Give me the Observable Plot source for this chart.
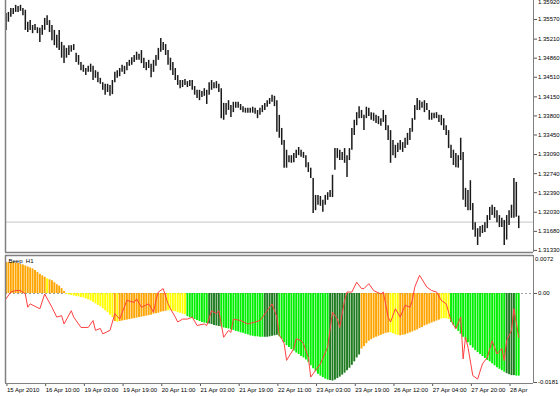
<!DOCTYPE html>
<html><head><meta charset="utf-8">
<script src="https://cdn.jsdelivr.net/npm/d3@7"></script>
<script src="https://cdn.jsdelivr.net/npm/@observablehq/plot@0.6"></script>
<style>
body{margin:0;background:#fff;}
#wrap{position:relative;width:560px;height:396px;overflow:hidden;background:#fff;}
#top{position:absolute;left:0;top:0;}
#bot{position:absolute;left:0;top:254px;}
</style></head><body><div id="wrap"><div id="top"></div><div id="bot"></div></div>
<script>
// ---- price bars (EURUSD H1) ----
const highs = [
1.3568,1.3570,1.3577,1.3577,1.3583,1.3581,1.3583,1.3577,1.3574,1.3552,
1.3555,1.3546,1.3548,1.3542,1.3541,1.3546,1.3559,1.3564,1.3555,1.3546,
1.3537,1.3528,1.3537,1.3515,1.3509,1.3504,1.3509,1.3509,1.3511,1.3495,
1.3491,1.3478,1.3473,1.3467,1.3471,1.3475,1.3471,1.3463,1.3460,1.3449,
1.3441,1.3438,1.3438,1.3436,1.3445,1.3460,1.3463,1.3467,1.3473,1.3471,
1.3478,1.3482,1.3487,1.3491,1.3497,1.3493,1.3500,1.3486,1.3478,1.3482,
1.3475,1.3482,1.3491,1.3504,1.3522,1.3515,1.3511,1.3500,1.3486,1.3478,
1.3467,1.3454,1.3445,1.3445,1.3447,1.3443,1.3445,1.3445,1.3434,1.3427,
1.3427,1.3425,1.3430,1.3427,1.3441,1.3445,1.3441,1.3443,1.3438,1.3430,
1.3403,1.3403,1.3408,1.3399,1.3405,1.3405,1.3405,1.3401,1.3397,1.3394,
1.3394,1.3394,1.3396,1.3394,1.3390,1.3394,1.3399,1.3403,1.3408,1.3412,
1.3418,1.3416,1.3408,1.3381,1.3357,1.3335,1.3317,1.3307,1.3307,1.3311,
1.3317,1.3322,1.3317,1.3313,1.3307,1.3294,1.3284,1.3265,1.3234,1.3234,
1.3232,1.3225,1.3234,1.3239,1.3243,1.3271,1.3320,1.3320,1.3317,1.3313,
1.3320,1.3307,1.3320,1.3357,1.3372,1.3386,1.3397,1.3390,1.3381,1.3396,
1.3394,1.3386,1.3385,1.3381,1.3379,1.3375,1.3390,1.3381,1.3362,1.3353,
1.3335,1.3326,1.3330,1.3335,1.3331,1.3339,1.3348,1.3357,1.3375,1.3399,
1.3412,1.3408,1.3405,1.3408,1.3403,1.3390,1.3385,1.3385,1.3386,1.3381,
1.3381,1.3375,1.3362,1.3353,1.3326,1.3317,1.3311,1.3307,1.3339,1.3313,
1.3247,1.3243,1.3261,1.3219,1.3184,1.3173,1.3177,1.3179,1.3184,1.3197,
1.3212,1.3216,1.3212,1.3206,1.3197,1.3192,1.3188,1.3197,1.3206,1.3216,
1.3265,1.3258,1.3196];
const lows = [
1.3537,1.3552,1.3561,1.3566,1.3570,1.3570,1.3572,1.3564,1.3537,1.3533,
1.3537,1.3531,1.3537,1.3531,1.3515,1.3528,1.3537,1.3546,1.3533,1.3518,
1.3509,1.3504,1.3500,1.3486,1.3476,1.3486,1.3491,1.3497,1.3500,1.3478,
1.3473,1.3463,1.3460,1.3454,1.3460,1.3460,1.3445,1.3449,1.3441,1.3438,
1.3427,1.3418,1.3423,1.3416,1.3419,1.3441,1.3449,1.3452,1.3460,1.3456,
1.3463,1.3471,1.3473,1.3478,1.3482,1.3482,1.3476,1.3467,1.3463,1.3467,
1.3450,1.3460,1.3471,1.3482,1.3497,1.3500,1.3491,1.3473,1.3463,1.3454,
1.3445,1.3436,1.3430,1.3432,1.3436,1.3432,1.3434,1.3427,1.3418,1.3412,
1.3408,1.3414,1.3416,1.3401,1.3418,1.3427,1.3430,1.3430,1.3423,1.3375,
1.3372,1.3381,1.3390,1.3377,1.3386,1.3394,1.3394,1.3390,1.3386,1.3385,
1.3385,1.3385,1.3385,1.3383,1.3375,1.3381,1.3386,1.3390,1.3396,1.3401,
1.3405,1.3397,1.3350,1.3339,1.3326,1.3284,1.3284,1.3294,1.3293,1.3294,
1.3302,1.3307,1.3304,1.3302,1.3285,1.3276,1.3265,1.3201,1.3206,1.3216,
1.3214,1.3203,1.3216,1.3225,1.3230,1.3230,1.3280,1.3302,1.3298,1.3298,
1.3293,1.3267,1.3298,1.3317,1.3344,1.3362,1.3375,1.3375,1.3353,1.3375,
1.3379,1.3372,1.3370,1.3366,1.3364,1.3361,1.3368,1.3353,1.3335,1.3293,
1.3307,1.3302,1.3313,1.3317,1.3313,1.3320,1.3326,1.3335,1.3350,1.3372,
1.3390,1.3390,1.3394,1.3386,1.3390,1.3372,1.3372,1.3375,1.3375,1.3368,
1.3362,1.3353,1.3344,1.3320,1.3302,1.3289,1.3285,1.3284,1.3298,1.3225,
1.3212,1.3206,1.3206,1.3170,1.3157,1.3142,1.3157,1.3164,1.3166,1.3173,
1.3188,1.3197,1.3192,1.3184,1.3175,1.3175,1.3142,1.3152,1.3179,1.3192,
1.3192,1.3194,1.3173];
const lastPrice = 1.31850;
const topTick = 1.35920;
const priceTicks = [1.35570,1.35210,1.34860,1.34510,1.34150,1.33800,1.33450,1.33090,1.32740,1.32390,1.32030,1.31680,1.31330];

// ---- Beep indicator ----
const beep = [
0.0063,0.0063,0.0063,0.0063,0.0062,0.0061,0.0059,0.0058,0.0056,0.0054,
0.0052,0.0050,0.0047,0.0043,0.0039,0.0036,0.0033,0.0030,0.0028,0.0026,
0.0022,0.0018,0.0015,0.0010,0.0004,-0.0002,-0.0003,-0.0004,-0.0005,-0.0006,
-0.0007,-0.0008,-0.0009,-0.0011,-0.0013,-0.0015,-0.0018,-0.0021,-0.0024,-0.0027,
-0.0031,-0.0035,-0.0039,-0.0044,-0.0049,-0.0057,-0.0058,-0.0057,-0.0056,-0.0055,
-0.0054,-0.0053,-0.0052,-0.0051,-0.0050,-0.0049,-0.0048,-0.0047,-0.0046,-0.0045,
-0.0044,-0.0042,-0.0041,-0.0040,-0.0038,-0.0037,-0.0036,-0.0035,-0.0035,-0.0036,
-0.0037,-0.0039,-0.0040,-0.0042,-0.0043,-0.0047,-0.0049,-0.0051,-0.0053,-0.0055,
-0.0057,-0.0059,-0.0060,-0.0061,-0.0062,-0.0063,-0.0065,-0.0066,-0.0067,-0.0068,
-0.0070,-0.0071,-0.0072,-0.0074,-0.0075,-0.0077,-0.0078,-0.0080,-0.0081,-0.0083,
-0.0084,-0.0086,-0.0087,-0.0088,-0.0088,-0.0089,-0.0089,-0.0089,-0.0089,-0.0088,
-0.0087,-0.0086,-0.0085,-0.0088,-0.0093,-0.0100,-0.0106,-0.0110,-0.0114,-0.0117,
-0.0121,-0.0124,-0.0128,-0.0131,-0.0135,-0.0140,-0.0147,-0.0153,-0.0159,-0.0164,
-0.0168,-0.0171,-0.0174,-0.0176,-0.0177,-0.0178,-0.0176,-0.0173,-0.0170,-0.0166,
-0.0162,-0.0157,-0.0152,-0.0146,-0.0139,-0.0131,-0.0125,-0.0113,-0.0108,-0.0102,
-0.0097,-0.0094,-0.0091,-0.0089,-0.0087,-0.0085,-0.0083,-0.0081,-0.0080,-0.0080,
-0.0082,-0.0084,-0.0085,-0.0086,-0.0085,-0.0084,-0.0082,-0.0080,-0.0078,-0.0076,
-0.0074,-0.0071,-0.0069,-0.0066,-0.0064,-0.0062,-0.0060,-0.0058,-0.0056,-0.0054,
-0.0052,-0.0051,-0.0051,-0.0053,-0.0059,-0.0065,-0.0071,-0.0077,-0.0083,-0.0089,
-0.0095,-0.0100,-0.0106,-0.0111,-0.0116,-0.0120,-0.0124,-0.0128,-0.0132,-0.0136,
-0.0139,-0.0143,-0.0147,-0.0151,-0.0154,-0.0157,-0.0160,-0.0163,-0.0165,-0.0167,
-0.0167,-0.0168,-0.0168];
// colour state runs: O orange, Y yellow, G green, D dark green
const colorRuns = [["O",17],["Y",1],["O",7],["Y",20],["O",1],["Y",1],["O",20],["Y",8],["G",9],["D",5],["G",18],["D",6],["G",21],["D",13],["O",12],["Y",4],["O",17],["Y",4],["G",23],["D",4],["G",2]];
const redIdx = [0,2,4,6,8,9,10,14,16,19,21,23,24,27,28,31,34,36,37,39,40,43,45,47,50,53,54,56,59,61,62,63,65,67,68,70,71,73,75,77,79,82,83,85,87,88,90,92,93,94,97,100,103,105,108,110,112,113,114,115,116,119,120,122,123,125,126,127,130,133,135,137,138,140,141,143,145,147,148,150,152,155,156,158,159,161,163,165,167,168,169,171,174,176,178,180,182,184,186,188,189,190,191,193,195,197,199,201,203,205,206,207,209,210,212];
const redVal = [-0.0011,0.0003,0.0006,0.0006,-0.0001,-0.0028,-0.0021,-0.0031,-0.0001,-0.0028,-0.0048,-0.0045,-0.0062,-0.0035,-0.0048,-0.0069,-0.0069,-0.0055,-0.0075,-0.0071,-0.0082,-0.0075,-0.0041,-0.0052,-0.0014,-0.0018,-0.0011,-0.0028,-0.0021,-0.0038,-0.0014,0.0003,0.0010,-0.0021,-0.0031,-0.0048,-0.0058,-0.0052,-0.0052,-0.0048,-0.0065,-0.0062,-0.0065,-0.0035,-0.0041,-0.0035,-0.0089,-0.0075,-0.0079,-0.0052,-0.0055,-0.0062,-0.0058,-0.0055,-0.0035,-0.0021,-0.0048,-0.0085,-0.0092,-0.0102,-0.0136,-0.0112,-0.0092,-0.0096,-0.0102,-0.0130,-0.0170,-0.0163,-0.0143,-0.0109,-0.0038,-0.0052,-0.0069,-0.0014,0.0003,0.0003,0.0023,0.0010,0.0010,0.0020,0.0006,-0.0001,0.0003,-0.0048,-0.0058,-0.0031,-0.0048,-0.0024,-0.0028,-0.0014,0.0013,0.0037,0.0013,0.0006,0.0003,-0.0014,-0.0021,-0.0055,-0.0072,-0.0048,-0.0133,-0.0089,-0.0109,-0.0167,-0.0174,-0.0143,-0.0130,-0.0096,-0.0123,-0.0112,-0.0136,-0.0096,-0.0075,-0.0031,-0.0089];
const beepTicks = [0.0072, 0, -0.0181];
const timeIdx = [0,16,32,48,64,80,96,112,128,144,160,176,192,208];
const timeLabels = ["15 Apr 2010","16 Apr 10:00","19 Apr 03:00","19 Apr 19:00","20 Apr 11:00","21 Apr 03:00","21 Apr 19:00","22 Apr 11:00","23 Apr 03:00","23 Apr 19:00","26 Apr 12:00","27 Apr 04:00","27 Apr 20:00","28 Apr"];

// ---- build ----
const xDomain = [-0.2, 218.1];
const yDomain = [1.31292, 1.35919];
const bDomain = [-0.0183, 0.00773];
const colorOf = {O:"#ffa500", Y:"#ffff00", G:"#00ee00", D:"#1e7a1e"};
const cats = colorRuns.flatMap(([c,n]) => Array(n).fill(c));
const bars = highs.map((h,i) => ({i, high:h, low:lows[i]}));
const beepData = beep.map((v,i) => ({i, v, c: colorOf[cats[i]]}));
const redData = redIdx.map((i,k) => ({i, v: redVal[k]}));
const FONT = "'Liberation Sans', Arial, sans-serif";
const frameC = "#808080";

const topChart = Plot.plot({
  width:560, height:253, marginLeft:5, marginRight:27, marginTop:0, marginBottom:1,
  x:{domain:xDomain, axis:null},
  y:{domain:yDomain, axis:null},
  style:{fontFamily:FONT, fontSize:"6px", background:"white", overflow:"visible", color:"#000"},
  marks:[
    Plot.ruleY([lastPrice], {stroke:"#c4c4c4"}),
    Plot.ruleX(bars, {x:"i", y1:"low", y2:"high", stroke:"#1a1a1a", strokeWidth:1.5}),
    Plot.axisY({anchor:"right", ticks:priceTicks, tickFormat:d => d.toFixed(5), tickSize:3, tickPadding:1.5, stroke:"#555", label:null}),
    Plot.text([topTick], {x:() => xDomain[1], y:d => d, text:d => d.toFixed(5), textAnchor:"start", lineAnchor:"top", dx:4.5, dy:-1}),
    Plot.ruleX([xDomain[0]], {stroke:frameC, strokeWidth:1.5}),
    Plot.ruleX([xDomain[1]], {stroke:frameC}),
    Plot.ruleY([yDomain[0]], {stroke:frameC, strokeWidth:1.5}),
    Plot.text([lastPrice], {x:() => xDomain[1], y:d => d, text:d => d.toFixed(5), textAnchor:"start", dx:4, fill:"white"})
  ]
});
document.getElementById("top").appendChild(topChart);
// black box behind the current price label
d3.select(topChart).selectAll("text").filter(function(){ return this.textContent === lastPrice.toFixed(5) && this.getAttribute("fill") === "white"; })
  .each(function(){
    const b = this.getBBox();
    d3.select(this.parentNode).insert("rect", () => this)
      .attr("x", b.x - 1).attr("y", b.y - 0.5).attr("width", b.width + 2).attr("height", b.height + 1).attr("fill", "#000");
  });

const botChart = Plot.plot({
  width:560, height:142, marginLeft:5, marginRight:27, marginTop:1, marginBottom:13,
  x:{domain:xDomain, axis:null},
  y:{domain:bDomain, axis:null},
  color:{type:"identity"},
  style:{fontFamily:FONT, fontSize:"6px", background:"white", overflow:"visible", color:"#000"},
  marks:[
    Plot.ruleY([0], {stroke:"#a0a0a0", strokeDasharray:"2,2"}),
    Plot.ruleX(beepData, {x:"i", y1:0, y2:"v", stroke:"c", strokeWidth:1.9}),
    Plot.line(redData, {x:"i", y:"v", stroke:"#ff4040", strokeWidth:1}),
    Plot.axisY({anchor:"right", ticks:beepTicks.slice(1), tickFormat:d => d === 0 ? "0.00" : String(d), tickSize:3, tickPadding:1.5, stroke:"#555", label:null}),
    Plot.text([beepTicks[0]], {x:() => xDomain[1], y:d => d, text:d => String(d), textAnchor:"start", lineAnchor:"top", dx:1.5, dy:-1.5}),
    Plot.axisX({anchor:"bottom", ticks:timeIdx, tickFormat:d => timeLabels[timeIdx.indexOf(d)], textAnchor:"start", tickSize:3, tickPadding:1, dx:1, stroke:"#555", label:null}),
    Plot.ruleX([xDomain[0]], {stroke:frameC, strokeWidth:1.5}),
    Plot.ruleX([xDomain[1]], {stroke:frameC}),
    Plot.ruleY([bDomain[0]], {stroke:frameC}),
    Plot.ruleY([bDomain[1]], {stroke:frameC, strokeWidth:1.5}),
    Plot.text(["Beep  H1"], {frameAnchor:"top-left", dx:3, dy:3, textAnchor:"start", lineAnchor:"top", fill:"#000"})
  ]
});
document.getElementById("bot").appendChild(botChart);
</script>
</body></html>
